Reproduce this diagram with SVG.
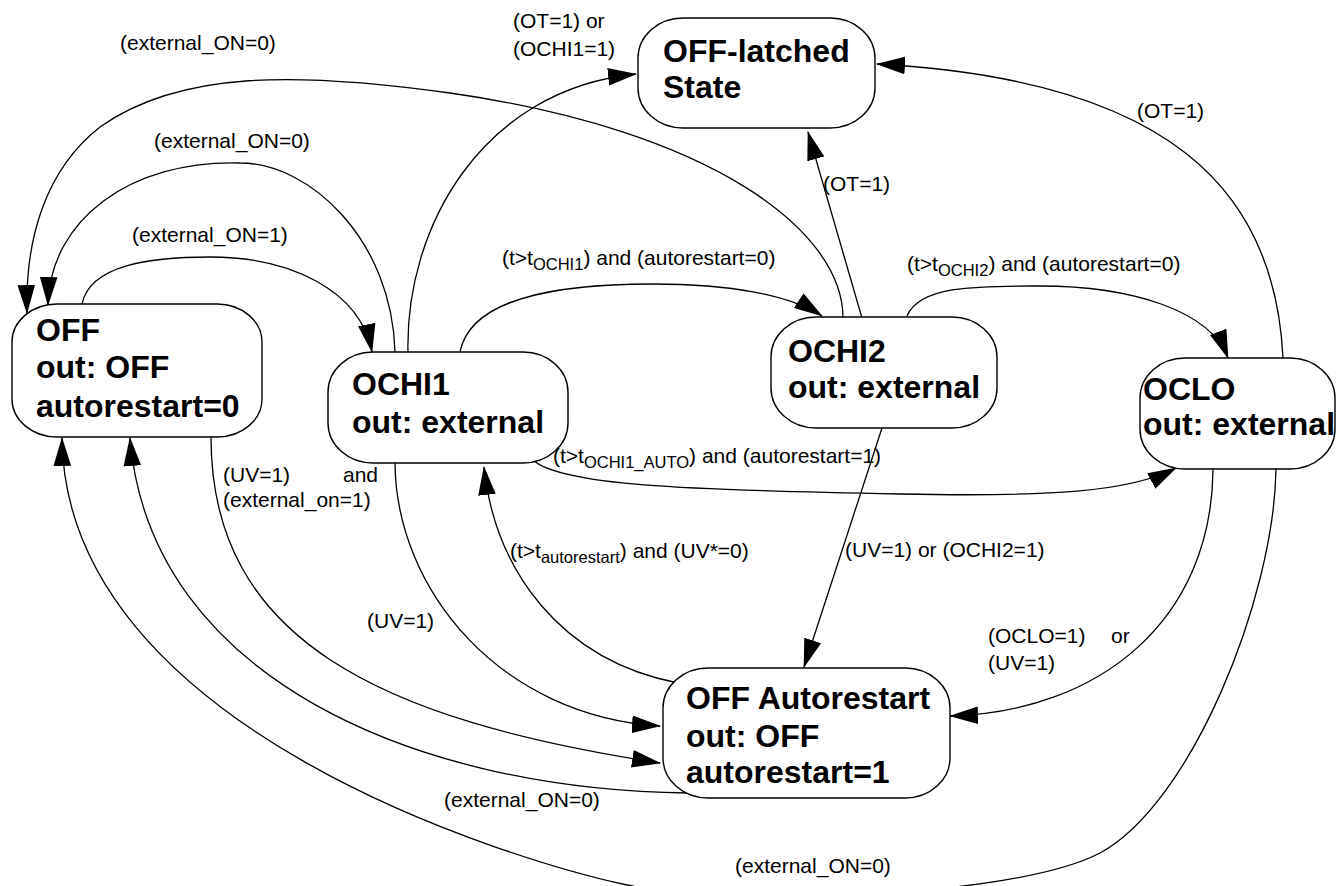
<svg xmlns="http://www.w3.org/2000/svg" width="1337" height="886" viewBox="0 0 1337 886">
<style>
.node{fill:#fff;stroke:#000;stroke-width:1.4}
.nt{font-family:"Liberation Sans",Arial,sans-serif;font-weight:bold;font-size:32px;fill:#000}
.c{fill:none;stroke:#000;stroke-width:1.3;marker-end:url(#arr)}
.lb{font-family:"Liberation Sans",Arial,sans-serif;font-size:21px;fill:#000}
.sub{font-size:16.5px}
</style>
<defs>
<marker id="arr" markerUnits="userSpaceOnUse" markerWidth="29" markerHeight="18" viewBox="0 0 28 17" refX="27" refY="8.5" orient="auto">
<path d="M0,0 L28,8.5 L0,17 z" fill="#000"/>
</marker>
</defs>
<rect width="1337" height="886" fill="#fff"/>
<g id="connectors">
<path class="c" d="M843,318 C843,230 710,130 450,93 C300,72 180,70 100,127 C45,170 25,240 27,313"/>
<path class="c" d="M395,352 C392,240 310,163 240,163 C130,160 50,220 48,305"/>
<path class="c" d="M82,304 C90,265 150,257 210,257 C290,257 360,290 372,352"/>
<path class="c" d="M408,352 C405,230 480,90 636,74"/>
<path class="c" d="M1283,358 C1275,190 1170,80 877,64"/>
<path class="c" d="M862,318 L808,132"/>
<path class="c" d="M460,352 C470,300 550,284 653,284 C730,284 790,295 822,316"/>
<path class="c" d="M907,316 C920,285 980,286 1040,286 C1130,286 1210,310 1228,358"/>
<path class="c" d="M533,460 C560,485 680,490 900,494 C1050,497 1130,492 1176,468"/>
<path class="c" d="M882,428 L804,667"/>
<path class="c" d="M678,683 C560,660 495,570 484,467"/>
<path class="c" d="M395,463 C396,590 500,716 660,726"/>
<path class="c" d="M211,437 C211,640 380,720 660,763"/>
<path class="c" d="M687,793 C420,790 150,680 130,438"/>
<path class="c" d="M1276,469 C1274,600 1190,805 1100,853 C1010,900 720,905 627,885 C520,862 65,730 62,438"/>
<path class="c" d="M1213,469 C1212,620 1100,712 950,716"/>
</g>
<g id="labels">
<text class="lb" x="120" y="50">(external_ON=0)</text>
<text class="lb" x="154" y="148">(external_ON=0)</text>
<text class="lb" x="132" y="242">(external_ON=1)</text>
<text class="lb" x="513" y="28">(OT=1) or</text>
<text class="lb" x="513" y="56">(OCHI1=1)</text>
<text class="lb" x="823" y="191">(OT=1)</text>
<text class="lb" x="1137" y="118">(OT=1)</text>
<text class="lb" x="502" y="265">(t&gt;t<tspan class="sub" dy="5">OCHI1</tspan><tspan dy="-5">) and (autorestart=0)</tspan></text>
<text class="lb" x="907" y="271">(t&gt;t<tspan class="sub" dy="5">OCHI2</tspan><tspan dy="-5">) and (autorestart=0)</tspan></text>
<text class="lb" x="553" y="463">(t&gt;t<tspan class="sub" dy="5">OCHI1_AUTO</tspan><tspan dy="-5">) and (autorestart=1)</tspan></text>
<text class="lb" x="510" y="558">(t&gt;t<tspan class="sub" dy="5">autorestart</tspan><tspan dy="-5">) and (UV*=0)</tspan></text>
<text class="lb" x="845" y="557">(UV=1) or (OCHI2=1)</text>
<text class="lb" x="223" y="482">(UV=1)</text>
<text class="lb" x="343" y="482">and</text>
<text class="lb" x="223" y="507">(external_on=1)</text>
<text class="lb" x="367" y="628">(UV=1)</text>
<text class="lb" x="988" y="643">(OCLO=1)</text>
<text class="lb" x="1111" y="643">or</text>
<text class="lb" x="988" y="670">(UV=1)</text>
<text class="lb" x="444" y="807">(external_ON=0)</text>
<text class="lb" x="735" y="873">(external_ON=0)</text>
</g>
<g id="node-off-latched">
<rect class="node" x="638" y="18" width="237" height="110" rx="45" ry="40"/>
<text class="nt" x="663" y="62">OFF-latched</text>
<text class="nt" x="663" y="98">State</text>
</g>
<g id="node-off">
<rect class="node" x="12" y="304" width="250" height="133" rx="45" ry="38"/>
<text class="nt" x="36" y="341">OFF</text>
<text class="nt" x="36" y="378">out: OFF</text>
<text class="nt" x="36" y="417">autorestart=0</text>
</g>
<g id="node-ochi1">
<rect class="node" x="328" y="352" width="240" height="111" rx="45" ry="40"/>
<text class="nt" x="352" y="395">OCHI1</text>
<text class="nt" x="352" y="433">out: external</text>
</g>
<g id="node-ochi2">
<rect class="node" x="771" y="317" width="226" height="111" rx="45" ry="40"/>
<text class="nt" x="788" y="362">OCHI2</text>
<text class="nt" x="788" y="398">out: external</text>
</g>
<g id="node-oclo">
<rect class="node" x="1140" y="358" width="195" height="111" rx="45" ry="40"/>
<text class="nt" x="1143" y="400">OCLO</text>
<text class="nt" x="1143" y="435">out: external</text>
</g>
<g id="node-off-autorestart">
<rect class="node" x="663" y="668" width="287" height="130" rx="45" ry="40"/>
<text class="nt" x="686" y="709">OFF Autorestart</text>
<text class="nt" x="686" y="747">out: OFF</text>
<text class="nt" x="686" y="783">autorestart=1</text>
</g>
</svg>
